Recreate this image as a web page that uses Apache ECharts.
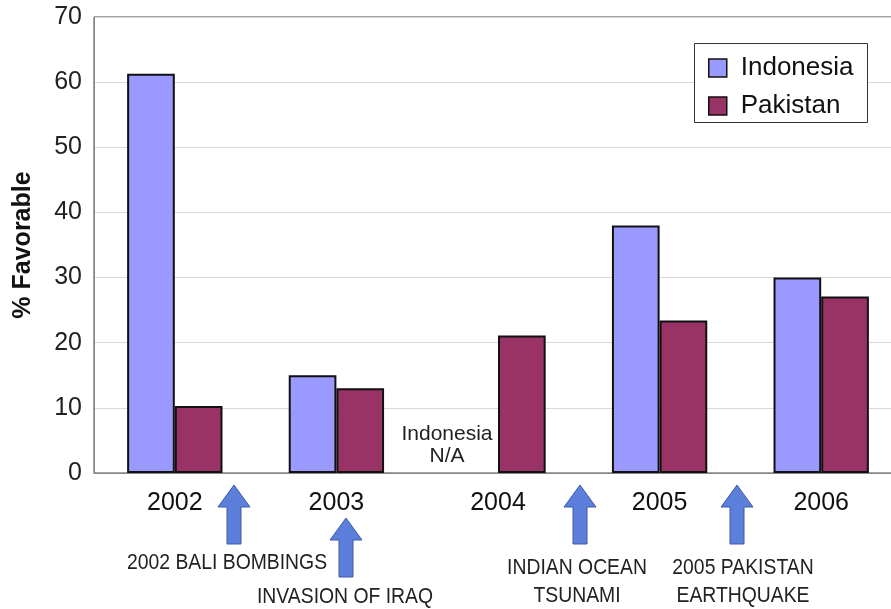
<!DOCTYPE html>
<html><head><meta charset="utf-8">
<script src="https://cdn.jsdelivr.net/npm/echarts@6/dist/echarts.min.js"></script>
<style>html,body{margin:0;padding:0;background:#fff;overflow:hidden;width:891px;height:609px}#c{width:902px;height:609px}</style>
</head><body><div id="c"></div>
<script>
const years = ['2002','2003','2004','2005','2006'];
const indonesia = [61.3, 15, null, 38, 30];
const pakistan = [10.3, 13, 21.1, 23.4, 27.1];
const yTicks = [0,10,20,30,40,50,60,70];
const events = [
  {x:234, tip:485, lines:['2002 BALI BOMBINGS'], tx:227, ty:563},
  {x:346, tip:518, lines:['INVASION OF IRAQ'], tx:345, ty:597},
  {x:580, tip:485, lines:['INDIAN OCEAN','TSUNAMI'], tx:577, ty:568},
  {x:737, tip:485, lines:['2005 PAKISTAN','EARTHQUAKE'], tx:743, ty:568}
];
const FONT = '"Liberation Sans", Arial, sans-serif';
const chart = echarts.init(document.getElementById('c'), null, {renderer:'canvas'});
const graphics = [];
events.forEach(e => {
  const h = 59, hw = 16, sw = 7, hh = 22;
  graphics.push({type:'polygon', shape:{points:[
    [e.x, e.tip],[e.x+hw, e.tip+hh],[e.x+sw, e.tip+hh],[e.x+sw, e.tip+h],
    [e.x-sw, e.tip+h],[e.x-sw, e.tip+hh],[e.x-hw, e.tip+hh]]},
    style:{fill:'#5b7fdb', stroke:'#3f5aa8', lineWidth:1}, z:10});
  e.lines.forEach((l,i) => graphics.push({type:'text', x:e.tx, y:e.ty + i*28, scaleX:0.88,
    style:{text:l, font:'22px ' + FONT, fill:'#222', textAlign:'center', textVerticalAlign:'middle'}, z:10}));
});
graphics.push({type:'text', x:447, y:434, style:{text:'Indonesia', font:'21px ' + FONT, fill:'#222', textAlign:'center', textVerticalAlign:'middle'}});
graphics.push({type:'text', x:447, y:456, style:{text:'N/A', font:'21px ' + FONT, fill:'#222', textAlign:'center', textVerticalAlign:'middle'}});
// legend box
graphics.push({type:'rect', shape:{x:694.5, y:43.5, width:173, height:79}, style:{fill:'#fff', stroke:'#333', lineWidth:1}, z:5});

chart.setOption({
  animation:false,
  grid:{left:94, right:0, top:17, bottom:136, show:true, borderColor:'#444', borderWidth:1, containLabel:false},
  legend:{data:['Indonesia','Pakistan'], orient:'vertical', left:708, top:55, itemWidth:18, itemHeight:18, itemGap:12,
    textStyle:{fontSize:26, fontFamily:FONT, color:'#111', padding:[0,0,0,9]}, z:6, padding:0,
    icon:'rect', itemStyle:{borderColor:'#111', borderWidth:1.5}},
  xAxis:{type:'category', data:years,
    axisLine:{lineStyle:{color:'#888', width:1}}, axisTick:{show:false},
    axisLabel:{fontSize:25, fontFamily:FONT, color:'#111', margin:18}},
  yAxis:{type:'value', min:0, max:70, interval:10,
    name:'% Favorable', nameLocation:'middle', nameGap:58, nameRotate:90,
    nameTextStyle:{fontSize:25, fontWeight:'bold', fontFamily:FONT, color:'#111'},
    axisLine:{show:true, lineStyle:{color:'#888'}}, axisTick:{show:false},
    axisLabel:{fontSize:25, fontFamily:FONT, color:'#222', margin:12,
      formatter: v => yTicks.includes(v) ? String(v) : ''},
    splitLine:{lineStyle:{color:'#d8d8d8'}}},
  series:[
    {name:'Indonesia', type:'bar', data:indonesia, barGap:'0%', barCategoryGap:'41%',
      itemStyle:{color:'#9999ff', borderColor:'#111', borderWidth:2}},
    {name:'Pakistan', type:'bar', data:pakistan,
      itemStyle:{color:'#993366', borderColor:'#111', borderWidth:2}}
  ],
  graphic: graphics
});
</script></body></html>
